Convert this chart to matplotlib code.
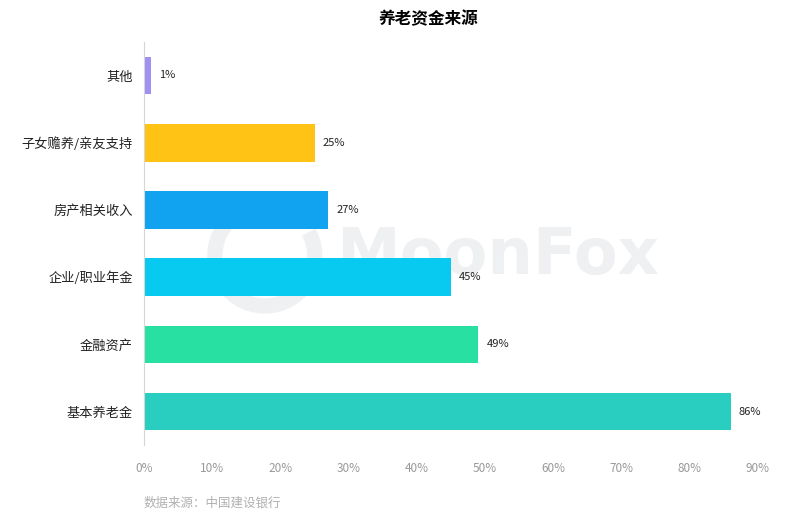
import matplotlib.pyplot as plt
from matplotlib.patches import Arc

plt.rcParams['font.family'] = ['Noto Sans CJK SC', 'DejaVu Sans']

categories = ["基本养老金", "金融资产", "企业/职业年金", "房产相关收入", "子女赡养/亲友支持", "其他"]
values = [86, 49, 45, 27, 25, 1]
colors = ["#22cdbf", "#22dfa0", "#00c8f0", "#0aa0f0", "#fec10c", "#9c8cf2"]
xticks = [0, 10, 20, 30, 40, 50, 60, 70, 80, 90]

fig = plt.figure(figsize=(8, 5.17), dpi=100)
ax = fig.add_axes([0.18, 0.139, 0.7675, 0.78], zorder=2)

# faint watermark behind the chart
fig.text(0.622, 0.505, "MoonFox", fontsize=46, fontweight="bold", color="#eef0f2",
         ha="center", va="center", family="DejaVu Sans", zorder=0)
wm = Arc((0.331, 0.505), 0.125, 0.125 * 800 / 517, theta1=110, theta2=400,
         transform=fig.transFigure, lw=11, ec="#eef0f2", zorder=0)
fig.patches.append(wm)

ax.patch.set_alpha(0)
ax.barh(range(len(categories)), values, height=0.56, color=colors, alpha=0.97, zorder=2)
for i, v in enumerate(values):
    ax.text(v + 1.2, i, f"{v}%", va="center", ha="left", fontsize=8, color="#222222")

ax.set_xlim(0, 90)
ax.set_ylim(-0.5, len(categories) - 0.5)
ax.set_yticks(range(len(categories)))
ax.set_yticklabels(categories, fontsize=9.5, color="#222222")
ax.set_xticks(xticks)
ax.set_xticklabels([f"{t}%" for t in xticks], fontsize=8.5, color="#999999")
ax.tick_params(length=0)
ax.tick_params(axis="x", pad=12)
ax.tick_params(axis="y", pad=8)
for s in ["top", "right", "bottom"]:
    ax.spines[s].set_visible(False)
ax.spines["left"].set_color("#d6d6d6")

fig.text(0.535, 0.963, "养老资金来源", ha="center", va="center", fontsize=12, fontweight="bold")
fig.text(0.18, 0.027, "数据来源：中国建设银行", ha="left", va="center", fontsize=9, color="#b0b0b0")

fig.savefig("out.png", dpi=100)
